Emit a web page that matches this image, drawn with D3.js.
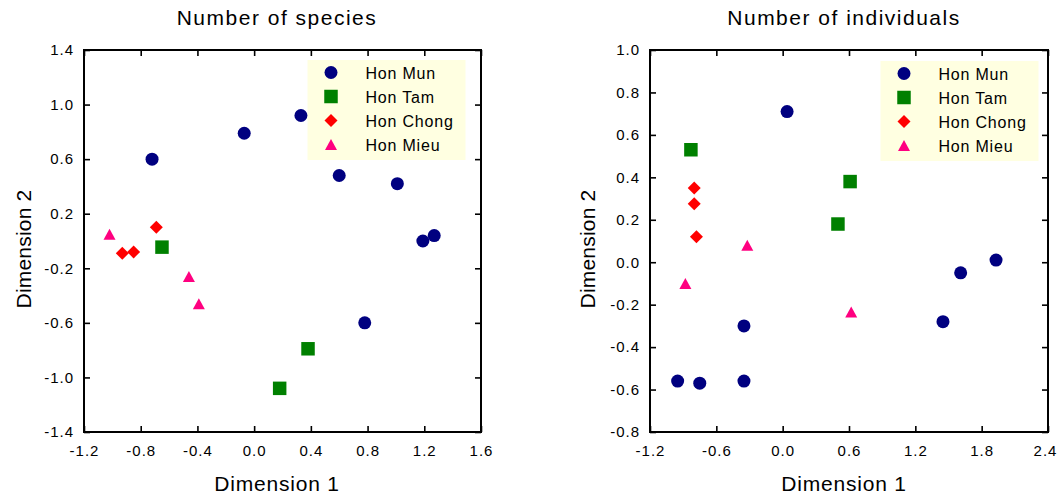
<!DOCTYPE html>
<html>
<head>
<meta charset="utf-8">
<script src="https://cdn.jsdelivr.net/npm/d3@7"></script>
<style>
  body { margin: 0; background: #fff; }
  svg text { font-family: "Liberation Sans", Arial, sans-serif; fill: #000; }
</style>
</head>
<body>
<div id="chart"></div>
<script>
// Sites and their marker colours
const sites = ["Hon Mun", "Hon Tam", "Hon Chong", "Hon Mieu"];
const siteColors = ["#000080", "#008000", "#ff0000", "#ff0080"];

// MDS coordinates [dim1, dim2] - number of species
const speciesHonMun = [[-0.72, 0.60], [-0.07, 0.79], [0.33, 0.92], [0.60, 0.48],
                       [1.01, 0.42], [1.19, 0.00], [1.27, 0.04], [0.78, -0.60]];
const speciesHonTam = [[-0.65, -0.045], [0.38, -0.79], [0.18, -1.08]];
const speciesHonChong = [[-0.69, 0.10], [-0.93, -0.09], [-0.85, -0.08]];
const speciesHonMieu = [[-1.02, 0.05], [-0.46, -0.26], [-0.39, -0.46]];

// MDS coordinates [dim1, dim2] - number of individuals
const indivHonMun = [[0.04, 0.71], [1.93, 0.01], [1.61, -0.05], [1.45, -0.28],
                     [-0.35, -0.30], [-0.95, -0.56], [-0.75, -0.57], [-0.35, -0.56]];
const indivHonTam = [[-0.83, 0.53], [0.61, 0.38], [0.50, 0.18]];
const indivHonChong = [[-0.80, 0.35], [-0.80, 0.275], [-0.78, 0.12]];
const indivHonMieu = [[-0.88, -0.10], [-0.32, 0.08], [0.62, -0.235]];

// Tick values
const speciesXTicks = [-1.2, -0.8, -0.4, 0.0, 0.4, 0.8, 1.2, 1.6];
const speciesYTicks = [-1.4, -1.0, -0.6, -0.2, 0.2, 0.6, 1.0, 1.4];
const indivXTicks = [-1.2, -0.6, 0.0, 0.6, 1.2, 1.8, 2.4];
const indivYTicks = [-0.8, -0.6, -0.4, -0.2, 0.0, 0.2, 0.4, 0.6, 0.8, 1.0];

// Custom symbol shapes (diamond as a square on its corner, triangle centred on its box)
const symDiamond = {
  draw(ctx, size) {
    const r = Math.sqrt(size) / 2;
    ctx.moveTo(0, -r); ctx.lineTo(r, 0); ctx.lineTo(0, r); ctx.lineTo(-r, 0); ctx.closePath();
  }
};
const symTriangle = {
  draw(ctx, size) {
    const w = Math.sqrt(size), h = w * 0.92;
    ctx.moveTo(0, -h / 2); ctx.lineTo(w / 2, h / 2); ctx.lineTo(-w / 2, h / 2); ctx.closePath();
  }
};
const siteSymbols = [
  d3.symbol(d3.symbolCircle, Math.PI * 6.5 * 6.5),
  d3.symbol(d3.symbolSquare, 13.5 * 13.5),
  d3.symbol(symDiamond, 13 * 13),
  d3.symbol(symTriangle, 12 * 12)
];

const fmt = d => d3.format(".1f")(d).replace("\u2212", "-");

const svg = d3.select("#chart").append("svg")
    .attr("width", 1059)
    .attr("height", 497);

function drawPanel(p) {
  const width = p.width, height = p.height;
  const g = svg.append("g").attr("transform", `translate(${p.left},${p.top})`);

  const x = d3.scaleLinear().domain(d3.extent(p.xTicks)).range([0, width]);
  const y = d3.scaleLinear().domain(d3.extent(p.yTicks)).range([height, 0]);

  // axes, ticks pointing inward on all four sides
  const styleAxis = sel => {
    sel.select(".domain").remove();
    sel.selectAll(".tick line").attr("stroke", "#000").attr("stroke-width", 1.6);
    sel.selectAll("text")
      .style("font-size", "15px")
      .style("letter-spacing", "1px")
      .attr("fill", "#000");
  };
  const xAxis = g.append("g").attr("transform", `translate(0,${height})`)
    .call(d3.axisBottom(x).tickValues(p.xTicks).tickFormat(fmt).tickSizeInner(-6).tickSizeOuter(0).tickPadding(13))
    .call(styleAxis);
  // keep the last label inside the page edge
  xAxis.selectAll(".tick text").filter((d, i, n) => i === n.length - 1).attr("dx", p.lastTickDx);
  g.append("g")
    .call(d3.axisTop(x).tickValues(p.xTicks).tickFormat("").tickSizeInner(-6).tickSizeOuter(0))
    .call(styleAxis);
  g.append("g")
    .call(d3.axisLeft(y).tickValues(p.yTicks).tickFormat(fmt).tickSizeInner(-6).tickSizeOuter(0).tickPadding(10))
    .call(styleAxis);
  g.append("g").attr("transform", `translate(${width},0)`)
    .call(d3.axisRight(y).tickValues(p.yTicks).tickFormat("").tickSizeInner(-6).tickSizeOuter(0))
    .call(styleAxis);

  // frame
  g.append("rect")
    .attr("width", width)
    .attr("height", height)
    .attr("fill", "none")
    .attr("stroke", "#000")
    .attr("stroke-width", 2);

  // legend
  const leg = g.append("g").attr("transform", `translate(${p.legendX},${p.legendY})`);
  leg.append("rect")
    .attr("width", 158)
    .attr("height", 100)
    .attr("fill", "#ffffe1");
  sites.forEach((s, i) => {
    leg.append("path")
      .attr("d", siteSymbols[i])
      .attr("transform", `translate(23.5,${12.5 + i * 24})`)
      .attr("fill", siteColors[i]);
    leg.append("text")
      .attr("x", 58)
      .attr("y", 18.5 + i * 24)
      .style("font-size", "16px")
      .style("letter-spacing", "0.8px")
      .text(s);
  });

  // points
  p.groups.forEach((pts, i) => {
    g.append("g").selectAll("path")
      .data(pts)
      .join("path")
      .attr("d", siteSymbols[i])
      .attr("transform", d => `translate(${x(d[0])},${y(d[1])})`)
      .attr("fill", siteColors[i]);
  });

  // titles and axis labels
  svg.append("text")
    .attr("x", p.labelCx)
    .attr("y", 25)
    .attr("text-anchor", "middle")
    .style("font-size", "21px")
    .style("letter-spacing", "1.5px")
    .text(p.title);
  svg.append("text")
    .attr("x", p.labelCx)
    .attr("y", 491)
    .attr("text-anchor", "middle")
    .style("font-size", "21px")
    .style("letter-spacing", "0.8px")
    .text("Dimension 1");
  svg.append("text")
    .attr("transform", `translate(${p.yLabelX},249) rotate(-90)`)
    .attr("text-anchor", "middle")
    .style("font-size", "21px")
    .style("letter-spacing", "0.2px")
    .text("Dimension 2");
}

drawPanel({
  title: "Number of species",
  left: 84, top: 50, width: 397, height: 382,
  xTicks: speciesXTicks, yTicks: speciesYTicks,
  groups: [speciesHonMun, speciesHonTam, speciesHonChong, speciesHonMieu],
  legendX: 223.5, legendY: 10,
  labelCx: 277, yLabelX: 31, lastTickDx: 0
});

drawPanel({
  title: "Number of individuals",
  left: 650, top: 50, width: 398, height: 382,
  xTicks: indivXTicks, yTicks: indivYTicks,
  groups: [indivHonMun, indivHonTam, indivHonChong, indivHonMieu],
  legendX: 230.5, legendY: 11,
  labelCx: 844, yLabelX: 595, lastTickDx: -3
});
</script>
</body>
</html>
